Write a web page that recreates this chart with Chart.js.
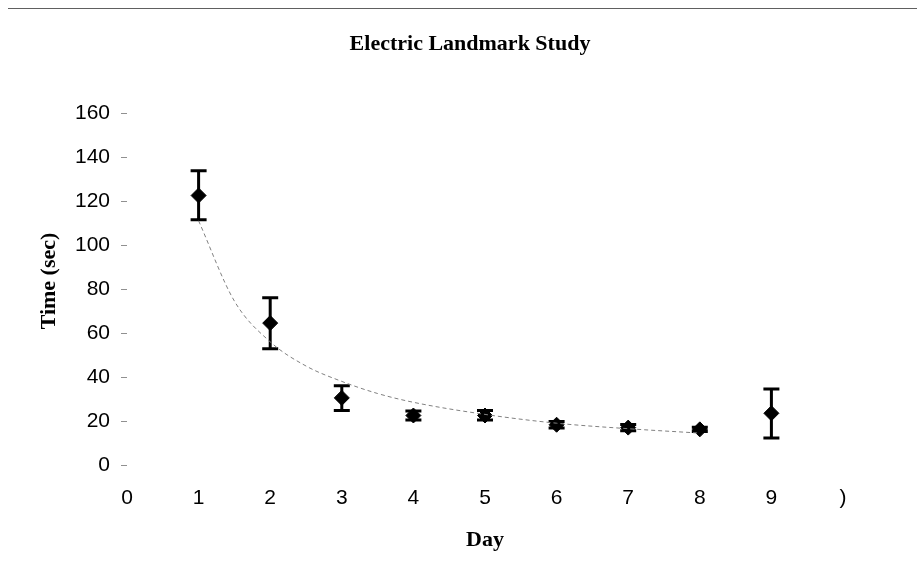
<!DOCTYPE html>
<html>
<head>
<meta charset="utf-8">
<script src="https://cdn.jsdelivr.net/npm/chart.js@4/dist/chart.umd.min.js"></script>
<style>
  html, body { margin: 0; padding: 0; background: #fff; }
  #wrap { position: relative; width: 917px; height: 577px; overflow: hidden; }
  #topline { position: absolute; left: 8px; right: 0; top: 8px; height: 1px; background: #606060; }
  canvas { position: absolute; left: 0; top: 0; }
</style>
</head>
<body>
<div id="wrap">
  <canvas id="c" width="917" height="577"></canvas>
  <div id="topline"></div>
</div>
<script>
// ---- data ----
const chartTitle = 'Electric Landmark Study';
const xAxisTitle = 'Day';
const yAxisTitle = 'Time (sec)';
const days = [1, 2, 3, 4, 5, 6, 7, 8, 9];
const meanTime = [122.5, 64.5, 30.5, 22.5, 22.5, 18.3, 17.0, 16.2, 23.5];
const errHigh = [133.8, 76.0, 36.0, 24.5, 24.8, 19.8, 18.4, 17.2, 34.5];
const errLow  = [111.5, 52.8, 24.8, 20.5, 20.5, 16.8, 15.6, 15.2, 12.3];
const trendX = [1, 1.5, 2, 2.5, 3, 3.5, 4, 5, 6, 7, 8];
const trendY = [111, 74.5, 56, 45, 38, 32.5, 28.5, 23, 19, 16.5, 14.5];
const xTickLabels = ['0', '1', '2', '3', '4', '5', '6', '7', '8', '9', ')'];
const yTicks = [0, 20, 40, 60, 80, 100, 120, 140, 160];

const errorBarPlugin = {
  id: 'errorBars',
  beforeDatasetsDraw(chart) {
    const ctx = chart.ctx;
    const xs = chart.scales.x, ys = chart.scales.y;
    ctx.save();
    ctx.strokeStyle = '#000';
    ctx.lineWidth = 3;
    ctx.lineCap = 'butt';
    days.forEach((d, i) => {
      const px = xs.getPixelForValue(d);
      const top = ys.getPixelForValue(errHigh[i]);
      const bot = ys.getPixelForValue(errLow[i]);
      ctx.beginPath();
      ctx.moveTo(px, top); ctx.lineTo(px, bot);
      ctx.moveTo(px - 8, top); ctx.lineTo(px + 8, top);
      ctx.moveTo(px - 8, bot); ctx.lineTo(px + 8, bot);
      ctx.stroke();
    });
    ctx.restore();
  }
};

const titlePlugin = {
  id: 'customTitles',
  afterDraw(chart) {
    const ctx = chart.ctx;
    ctx.save();
    ctx.fillStyle = '#000';
    ctx.font = 'bold 22px "Liberation Serif", "Times New Roman", serif';
    ctx.textAlign = 'center';
    ctx.textBaseline = 'middle';
    ctx.fillText(chartTitle, 470, 44);
    ctx.translate(49, 281);
    ctx.rotate(-Math.PI / 2);
    ctx.fillText(yAxisTitle, 0, 0);
    ctx.restore();
  }
};

new Chart(document.getElementById('c'), {
  type: 'scatter',
  data: {
    datasets: [
      {
        type: 'line',
        label: 'trend',
        data: trendX.map((x, i) => ({ x: x, y: trendY[i] })),
        borderColor: '#808080',
        borderWidth: 1,
        borderDash: [4, 3],
        pointRadius: 0,
        fill: false,
        cubicInterpolationMode: 'monotone'
      },
      {
        label: 'Time',
        data: days.map((d, i) => ({ x: d, y: meanTime[i] })),
        pointStyle: 'rectRot',
        pointRadius: 7.5,
        pointBackgroundColor: '#000',
        pointBorderColor: '#000',
        pointBorderWidth: 1
      }
    ]
  },
  options: {
    responsive: false,
    animation: false,
    layout: { padding: { top: 113, right: 74, left: 0, bottom: 0 } },
    plugins: { legend: { display: false }, tooltip: { enabled: false }, title: { display: false } },
    scales: {
      x: {
        type: 'linear', min: 0, max: 10,
        grid: { display: false, drawTicks: false },
        border: { display: false },
        ticks: {
          stepSize: 1, padding: 21, color: '#000',
          font: { family: '"Liberation Sans", Arial, sans-serif', size: 21 },
          callback: (v) => xTickLabels[v] !== undefined ? xTickLabels[v] : ''
        },
        title: {
          display: true, text: xAxisTitle, color: '#000',
          font: { family: '"Liberation Serif", "Times New Roman", serif', size: 22, weight: 'bold' },
          padding: { top: 0, bottom: 23 }
        },
        afterFit(scale) { scale.height = 112; }
      },
      y: {
        type: 'linear', min: 0, max: 160,
        grid: { drawOnChartArea: false, drawTicks: true, tickLength: 6, color: '#909090' },
        border: { display: false },
        ticks: {
          stepSize: 20, padding: 11, color: '#000',
          font: { family: '"Liberation Sans", Arial, sans-serif', size: 21 }
        },
        afterBuildTicks(scale) { scale.ticks = yTicks.map(v => ({ value: v })); },
        title: { display: false },
        afterFit(scale) { scale.width = 127; }
      }
    }
  },
  plugins: [errorBarPlugin, titlePlugin]
});
</script>
</body>
</html>
